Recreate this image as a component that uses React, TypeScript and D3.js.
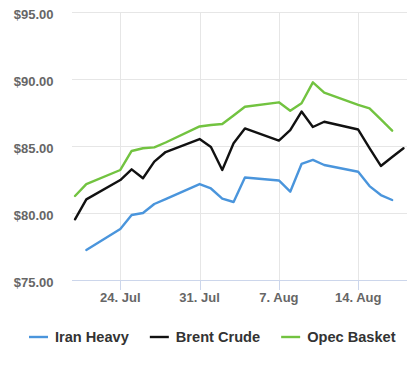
import { useEffect, useRef } from 'react';
import * as d3 from 'd3';

// trading days (weekdays only)
const dates = [
  '2017-07-20', '2017-07-21', '2017-07-24', '2017-07-25', '2017-07-26', '2017-07-27', '2017-07-28',
  '2017-07-31', '2017-08-01', '2017-08-02', '2017-08-03', '2017-08-04',
  '2017-08-07', '2017-08-08', '2017-08-09', '2017-08-10', '2017-08-11',
  '2017-08-14', '2017-08-15', '2017-08-16', '2017-08-17', '2017-08-18',
];

// null = no quote that day
const iranHeavy = [
  null, 77.24, 78.81, 79.85, 80.0, 80.67, 81.04,
  82.16, 81.83, 81.08, 80.82, 82.65,
  82.43, 81.59, 83.66, 83.96, 83.58,
  83.08, 82.01, 81.34, 80.97, null,
];
const brentCrude = [
  79.53, 81.02, 82.46, 83.26, 82.59, 83.83, 84.55,
  85.52, 84.93, 83.21, 85.2, 86.31,
  85.4, 86.19, 87.57, 86.42, 86.81,
  86.23, 84.85, 83.51, 84.18, 84.83,
];
const opecBasket = [
  81.27, 82.16, 83.21, 84.63, 84.83, 84.9, 85.26,
  86.46, 86.57, 86.64, 87.28, 87.93,
  88.26, 87.63, 88.19, 89.75, 88.98,
  88.07, 87.81, 86.98, 86.14, null,
];

const seriesNames = ['Iran Heavy', 'Brent Crude', 'Opec Basket'];
const seriesColors = ['#4a95dc', '#111111', '#72c340'];
const yTicks = [75, 80, 85, 90, 95];

const App = () => {
  const ref = useRef<SVGSVGElement>(null);

  useEffect(() => {
    if (!ref.current) return;
    const svg = d3.select(ref.current);
    svg.selectAll('*').remove();

    const W = 418;
    const H = 369;
    const plotLeft = 72;
    const plotRight = 407;
    const parse = d3.timeParse('%Y-%m-%d');
    const xs = dates.map((d) => parse(d) as Date);

    const x = d3
      .scaleTime()
      .domain([xs[0], xs[xs.length - 1]])
      .range([75, 403.5]);
    const y = d3.scaleLinear().domain([75, 95]).range([280, 12]);

    svg.attr('width', W).attr('height', H);
    svg.append('rect').attr('width', W).attr('height', H).attr('fill', '#fff');

    const font = "'Liberation Sans', Arial, sans-serif";

    // horizontal grid
    svg
      .append('g')
      .selectAll('line')
      .data(yTicks.filter((t) => t > 75))
      .enter()
      .append('line')
      .attr('x1', plotLeft)
      .attr('x2', plotRight)
      .attr('y1', (d) => Math.round(y(d)) + 0.5)
      .attr('y2', (d) => Math.round(y(d)) + 0.5)
      .attr('stroke', '#e6e6e6');

    // vertical grid at Mondays
    const xTicks = x.ticks(d3.timeMonday);
    svg
      .append('g')
      .selectAll('line')
      .data(xTicks)
      .enter()
      .append('line')
      .attr('x1', (d) => Math.round(x(d)) + 0.5)
      .attr('x2', (d) => Math.round(x(d)) + 0.5)
      .attr('y1', 12)
      .attr('y2', 280)
      .attr('stroke', '#e6e6e6');

    // x axis
    svg
      .append('line')
      .attr('x1', plotLeft)
      .attr('x2', plotRight)
      .attr('y1', 280.5)
      .attr('y2', 280.5)
      .attr('stroke', '#ccd6eb');
    const fmt = d3.timeFormat('%-d. %b');
    const xg = svg.append('g').selectAll('g').data(xTicks).enter().append('g');
    xg.append('line')
      .attr('x1', (d) => Math.round(x(d)) + 0.5)
      .attr('x2', (d) => Math.round(x(d)) + 0.5)
      .attr('y1', 280)
      .attr('y2', 290)
      .attr('stroke', '#ccd6eb');
    xg.append('text')
      .attr('x', (d) => x(d))
      .attr('y', 302)
      .attr('text-anchor', 'middle')
      .attr('font-family', font)
      .attr('font-size', '13px')
      .attr('font-weight', 'bold')
      .attr('fill', '#666')
      .text((d) => fmt(d));

    // y labels
    svg
      .append('g')
      .selectAll('text')
      .data(yTicks)
      .enter()
      .append('text')
      .attr('x', 53.5)
      .attr('y', (d) => y(d) + 7)
      .attr('text-anchor', 'end')
      .attr('font-family', font)
      .attr('font-size', '13px')
      .attr('font-weight', 'bold')
      .attr('fill', '#666')
      .text((d) => '$' + d.toFixed(2));

    // lines
    const allSeries = [iranHeavy, brentCrude, opecBasket];
    const line = d3
      .line<[Date, number | null]>()
      .defined((d) => d[1] !== null)
      .x((d) => x(d[0]))
      .y((d) => y(d[1] as number));
    allSeries.forEach((vals, i) => {
      svg
        .append('path')
        .datum(xs.map((d, j) => [d, vals[j]] as [Date, number | null]))
        .attr('fill', 'none')
        .attr('stroke', seriesColors[i])
        .attr('stroke-width', 2.4)
        .attr('stroke-linejoin', 'round')
        .attr('stroke-linecap', 'round')
        .attr('d', line);
    });

    // legend
    let lx = 29;
    const ly = 337;
    seriesNames.forEach((name, i) => {
      const g = svg.append('g');
      g.append('line')
        .attr('x1', lx)
        .attr('x2', lx + 19)
        .attr('y1', ly)
        .attr('y2', ly)
        .attr('stroke', seriesColors[i])
        .attr('stroke-width', 2.4);
      const t = g
        .append('text')
        .attr('x', lx + 26)
        .attr('y', ly + 5)
        .attr('font-family', font)
        .attr('font-size', '14.6px')
        .attr('font-weight', 'bold')
        .attr('fill', '#333')
        .text(name);
      const w = (t.node() as SVGTextElement).getComputedTextLength();
      lx += 26 + w + 21;
    });
  }, []);

  return (
    <svg
      ref={ref}
      style={{ position: 'absolute', left: 0, top: 0, display: 'block' }}
    ></svg>
  );
};

export default App;
